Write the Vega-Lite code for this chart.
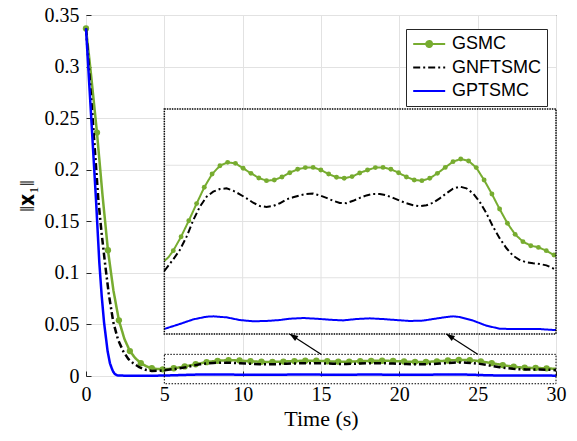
{
  "$schema": "https://vega.github.io/schema/vega-lite/v6.json",
  "width": 470,
  "height": 361,
  "autosize": {"type": "none"},
  "padding": {"left": 86, "top": 15, "right": 21, "bottom": 65},
  "background": "white",
  "config": {
    "font": "Liberation Serif",
    "view": {"stroke": "#262626", "strokeWidth": 1}
  },
  "datasets": {
    "curves": [
      {"series": "GSMC", "t": 0, "v": 0.337},
      {"series": "GSMC", "t": 0.35, "v": 0.288},
      {"series": "GSMC", "t": 0.7, "v": 0.236},
      {"series": "GSMC", "t": 1.05, "v": 0.176},
      {"series": "GSMC", "t": 1.4, "v": 0.122},
      {"series": "GSMC", "t": 1.75, "v": 0.083},
      {"series": "GSMC", "t": 2.1, "v": 0.054},
      {"series": "GSMC", "t": 2.45, "v": 0.036},
      {"series": "GSMC", "t": 2.8, "v": 0.0242},
      {"series": "GSMC", "t": 3.15, "v": 0.0172},
      {"series": "GSMC", "t": 3.5, "v": 0.0124},
      {"series": "GSMC", "t": 3.85, "v": 0.0094},
      {"series": "GSMC", "t": 4.2, "v": 0.0075},
      {"series": "GSMC", "t": 4.55, "v": 0.0068},
      {"series": "GSMC", "t": 4.9, "v": 0.0065},
      {"series": "GSMC", "t": 5.0, "v": 0.0065},
      {"series": "GSMC", "t": 5.25, "v": 0.0068},
      {"series": "GSMC", "t": 5.57, "v": 0.00741},
      {"series": "GSMC", "t": 6.07, "v": 0.00865},
      {"series": "GSMC", "t": 6.56, "v": 0.01007},
      {"series": "GSMC", "t": 7.06, "v": 0.01159},
      {"series": "GSMC", "t": 7.55, "v": 0.01304},
      {"series": "GSMC", "t": 8.05, "v": 0.01422},
      {"series": "GSMC", "t": 8.55, "v": 0.01496},
      {"series": "GSMC", "t": 9.04, "v": 0.01526},
      {"series": "GSMC", "t": 9.54, "v": 0.01517},
      {"series": "GSMC", "t": 10.03, "v": 0.01473},
      {"series": "GSMC", "t": 10.53, "v": 0.01428},
      {"series": "GSMC", "t": 11.03, "v": 0.01387},
      {"series": "GSMC", "t": 11.52, "v": 0.01363},
      {"series": "GSMC", "t": 12.02, "v": 0.01369},
      {"series": "GSMC", "t": 12.51, "v": 0.01396},
      {"series": "GSMC", "t": 13.01, "v": 0.01434},
      {"series": "GSMC", "t": 13.51, "v": 0.01464},
      {"series": "GSMC", "t": 14.0, "v": 0.01479},
      {"series": "GSMC", "t": 14.5, "v": 0.01481},
      {"series": "GSMC", "t": 14.99, "v": 0.01458},
      {"series": "GSMC", "t": 15.49, "v": 0.01422},
      {"series": "GSMC", "t": 15.99, "v": 0.01393},
      {"series": "GSMC", "t": 16.48, "v": 0.01384},
      {"series": "GSMC", "t": 16.98, "v": 0.01399},
      {"series": "GSMC", "t": 17.47, "v": 0.01431},
      {"series": "GSMC", "t": 17.97, "v": 0.01458},
      {"series": "GSMC", "t": 18.47, "v": 0.01479},
      {"series": "GSMC", "t": 18.96, "v": 0.01481},
      {"series": "GSMC", "t": 19.46, "v": 0.01464},
      {"series": "GSMC", "t": 19.95, "v": 0.01434},
      {"series": "GSMC", "t": 20.45, "v": 0.01396},
      {"series": "GSMC", "t": 20.95, "v": 0.01369},
      {"series": "GSMC", "t": 21.44, "v": 0.01363},
      {"series": "GSMC", "t": 21.94, "v": 0.01384},
      {"series": "GSMC", "t": 22.43, "v": 0.01428},
      {"series": "GSMC", "t": 22.93, "v": 0.01481},
      {"series": "GSMC", "t": 23.43, "v": 0.01532},
      {"series": "GSMC", "t": 23.92, "v": 0.01556},
      {"series": "GSMC", "t": 24.42, "v": 0.01538},
      {"series": "GSMC", "t": 24.91, "v": 0.01479},
      {"series": "GSMC", "t": 25.41, "v": 0.01369},
      {"series": "GSMC", "t": 25.91, "v": 0.01244},
      {"series": "GSMC", "t": 26.4, "v": 0.01111},
      {"series": "GSMC", "t": 26.9, "v": 0.00984},
      {"series": "GSMC", "t": 27.39, "v": 0.00886},
      {"series": "GSMC", "t": 27.89, "v": 0.00821},
      {"series": "GSMC", "t": 28.39, "v": 0.00785},
      {"series": "GSMC", "t": 28.88, "v": 0.0077},
      {"series": "GSMC", "t": 29.38, "v": 0.00741},
      {"series": "GSMC", "t": 29.87, "v": 0.00702},
      {"series": "GSMC", "t": 30, "v": 0.0069},

      {"series": "GNFTSMC", "t": 0, "v": 0.337},
      {"series": "GNFTSMC", "t": 0.2, "v": 0.296},
      {"series": "GNFTSMC", "t": 0.4, "v": 0.255},
      {"series": "GNFTSMC", "t": 0.6, "v": 0.212},
      {"series": "GNFTSMC", "t": 0.79, "v": 0.1705},
      {"series": "GNFTSMC", "t": 1.0, "v": 0.138},
      {"series": "GNFTSMC", "t": 1.21, "v": 0.1098},
      {"series": "GNFTSMC", "t": 1.45, "v": 0.08},
      {"series": "GNFTSMC", "t": 1.74, "v": 0.0523},
      {"series": "GNFTSMC", "t": 2.05, "v": 0.035},
      {"series": "GNFTSMC", "t": 2.38, "v": 0.0239},
      {"series": "GNFTSMC", "t": 2.7, "v": 0.0165},
      {"series": "GNFTSMC", "t": 3.02, "v": 0.0123},
      {"series": "GNFTSMC", "t": 3.4, "v": 0.0085},
      {"series": "GNFTSMC", "t": 3.8, "v": 0.006},
      {"series": "GNFTSMC", "t": 4.2, "v": 0.0049},
      {"series": "GNFTSMC", "t": 4.6, "v": 0.005},
      {"series": "GNFTSMC", "t": 5.0, "v": 0.0056},
      {"series": "GNFTSMC", "t": 5.57, "v": 0.00664},
      {"series": "GNFTSMC", "t": 5.99, "v": 0.00747},
      {"series": "GNFTSMC", "t": 6.42, "v": 0.00865},
      {"series": "GNFTSMC", "t": 6.85, "v": 0.01013},
      {"series": "GNFTSMC", "t": 7.27, "v": 0.01132},
      {"series": "GNFTSMC", "t": 7.7, "v": 0.01221},
      {"series": "GNFTSMC", "t": 8.12, "v": 0.01265},
      {"series": "GNFTSMC", "t": 8.55, "v": 0.01289},
      {"series": "GNFTSMC", "t": 8.97, "v": 0.01295},
      {"series": "GNFTSMC", "t": 9.39, "v": 0.01274},
      {"series": "GNFTSMC", "t": 9.82, "v": 0.01242},
      {"series": "GNFTSMC", "t": 10.25, "v": 0.01206},
      {"series": "GNFTSMC", "t": 10.67, "v": 0.01167},
      {"series": "GNFTSMC", "t": 11.1, "v": 0.01138},
      {"series": "GNFTSMC", "t": 11.52, "v": 0.01129},
      {"series": "GNFTSMC", "t": 11.95, "v": 0.01138},
      {"series": "GNFTSMC", "t": 12.37, "v": 0.01162},
      {"series": "GNFTSMC", "t": 12.8, "v": 0.01197},
      {"series": "GNFTSMC", "t": 13.22, "v": 0.01215},
      {"series": "GNFTSMC", "t": 13.64, "v": 0.01232},
      {"series": "GNFTSMC", "t": 14.07, "v": 0.01245},
      {"series": "GNFTSMC", "t": 14.5, "v": 0.01248},
      {"series": "GNFTSMC", "t": 14.92, "v": 0.01232},
      {"series": "GNFTSMC", "t": 15.35, "v": 0.0121},
      {"series": "GNFTSMC", "t": 15.77, "v": 0.01185},
      {"series": "GNFTSMC", "t": 16.2, "v": 0.01165},
      {"series": "GNFTSMC", "t": 16.62, "v": 0.01163},
      {"series": "GNFTSMC", "t": 17.05, "v": 0.01184},
      {"series": "GNFTSMC", "t": 17.48, "v": 0.0121},
      {"series": "GNFTSMC", "t": 17.9, "v": 0.01232},
      {"series": "GNFTSMC", "t": 18.33, "v": 0.01245},
      {"series": "GNFTSMC", "t": 18.75, "v": 0.01245},
      {"series": "GNFTSMC", "t": 19.18, "v": 0.01232},
      {"series": "GNFTSMC", "t": 19.6, "v": 0.0121},
      {"series": "GNFTSMC", "t": 20.03, "v": 0.01185},
      {"series": "GNFTSMC", "t": 20.45, "v": 0.01162},
      {"series": "GNFTSMC", "t": 20.88, "v": 0.01145},
      {"series": "GNFTSMC", "t": 21.3, "v": 0.01135},
      {"series": "GNFTSMC", "t": 21.73, "v": 0.01144},
      {"series": "GNFTSMC", "t": 22.15, "v": 0.01167},
      {"series": "GNFTSMC", "t": 22.58, "v": 0.01206},
      {"series": "GNFTSMC", "t": 23.0, "v": 0.0125},
      {"series": "GNFTSMC", "t": 23.43, "v": 0.01292},
      {"series": "GNFTSMC", "t": 23.86, "v": 0.0131},
      {"series": "GNFTSMC", "t": 24.28, "v": 0.01295},
      {"series": "GNFTSMC", "t": 24.71, "v": 0.0125},
      {"series": "GNFTSMC", "t": 25.13, "v": 0.01176},
      {"series": "GNFTSMC", "t": 25.56, "v": 0.01073},
      {"series": "GNFTSMC", "t": 25.98, "v": 0.00954},
      {"series": "GNFTSMC", "t": 26.41, "v": 0.0085},
      {"series": "GNFTSMC", "t": 26.84, "v": 0.00762},
      {"series": "GNFTSMC", "t": 27.26, "v": 0.00696},
      {"series": "GNFTSMC", "t": 27.69, "v": 0.00658},
      {"series": "GNFTSMC", "t": 28.11, "v": 0.00637},
      {"series": "GNFTSMC", "t": 28.54, "v": 0.00628},
      {"series": "GNFTSMC", "t": 28.96, "v": 0.00622},
      {"series": "GNFTSMC", "t": 29.39, "v": 0.0061},
      {"series": "GNFTSMC", "t": 29.81, "v": 0.00584},
      {"series": "GNFTSMC", "t": 30, "v": 0.00569},

      {"series": "GPTSMC", "t": 0, "v": 0.337},
      {"series": "GPTSMC", "t": 0.32, "v": 0.254},
      {"series": "GPTSMC", "t": 0.64, "v": 0.1705},
      {"series": "GPTSMC", "t": 0.85, "v": 0.11},
      {"series": "GPTSMC", "t": 1.0, "v": 0.078},
      {"series": "GPTSMC", "t": 1.15, "v": 0.0523},
      {"series": "GPTSMC", "t": 1.38, "v": 0.0239},
      {"series": "GPTSMC", "t": 1.53, "v": 0.0123},
      {"series": "GPTSMC", "t": 1.65, "v": 0.0072},
      {"series": "GPTSMC", "t": 1.74, "v": 0.004},
      {"series": "GPTSMC", "t": 1.85, "v": 0.0018},
      {"series": "GPTSMC", "t": 2.0, "v": 0.0006},
      {"series": "GPTSMC", "t": 2.5, "v": 0.0003},
      {"series": "GPTSMC", "t": 3.5, "v": 0.0002},
      {"series": "GPTSMC", "t": 4.3, "v": 0.0003},
      {"series": "GPTSMC", "t": 5.0, "v": 0.00045},
      {"series": "GPTSMC", "t": 5.99, "v": 0.00089},
      {"series": "GPTSMC", "t": 6.85, "v": 0.0013},
      {"series": "GPTSMC", "t": 7.7, "v": 0.00154},
      {"series": "GPTSMC", "t": 8.12, "v": 0.00157},
      {"series": "GPTSMC", "t": 8.97, "v": 0.00148},
      {"series": "GPTSMC", "t": 9.82, "v": 0.00124},
      {"series": "GPTSMC", "t": 10.67, "v": 0.00113},
      {"series": "GPTSMC", "t": 11.52, "v": 0.00116},
      {"series": "GPTSMC", "t": 12.37, "v": 0.00124},
      {"series": "GPTSMC", "t": 13.01, "v": 0.00136},
      {"series": "GPTSMC", "t": 13.86, "v": 0.00142},
      {"series": "GPTSMC", "t": 14.71, "v": 0.00136},
      {"series": "GPTSMC", "t": 15.56, "v": 0.00127},
      {"series": "GPTSMC", "t": 16.41, "v": 0.00121},
      {"series": "GPTSMC", "t": 17.27, "v": 0.00133},
      {"series": "GPTSMC", "t": 18.11, "v": 0.00139},
      {"series": "GPTSMC", "t": 18.96, "v": 0.00133},
      {"series": "GPTSMC", "t": 19.81, "v": 0.00124},
      {"series": "GPTSMC", "t": 20.66, "v": 0.00116},
      {"series": "GPTSMC", "t": 21.51, "v": 0.00119},
      {"series": "GPTSMC", "t": 22.15, "v": 0.00133},
      {"series": "GPTSMC", "t": 23.0, "v": 0.00151},
      {"series": "GPTSMC", "t": 23.43, "v": 0.00157},
      {"series": "GPTSMC", "t": 23.86, "v": 0.00151},
      {"series": "GPTSMC", "t": 24.71, "v": 0.00119},
      {"series": "GPTSMC", "t": 25.56, "v": 0.00074},
      {"series": "GPTSMC", "t": 26.41, "v": 0.00047},
      {"series": "GPTSMC", "t": 27.26, "v": 0.00044},
      {"series": "GPTSMC", "t": 28.11, "v": 0.00044},
      {"series": "GPTSMC", "t": 28.96, "v": 0.00044},
      {"series": "GPTSMC", "t": 29.81, "v": 0.00036},
      {"series": "GPTSMC", "t": 30, "v": 0.00035}
    ],
    "mk": [
      {"t": 0, "v": 0.337}, {"t": 0.7, "v": 0.236}, {"t": 1.4, "v": 0.122}, {"t": 2.1, "v": 0.054},
      {"t": 2.8, "v": 0.0242}, {"t": 3.5, "v": 0.0124}, {"t": 4.2, "v": 0.0075}, {"t": 4.9, "v": 0.0065},
      {"t": 5.6, "v": 0.0075}, {"t": 6.3, "v": 0.0093}, {"t": 7.0, "v": 0.0114}, {"t": 7.7, "v": 0.0134},
      {"t": 8.4, "v": 0.0147}, {"t": 9.1, "v": 0.0153}, {"t": 9.8, "v": 0.015}, {"t": 10.5, "v": 0.0143},
      {"t": 11.2, "v": 0.0138}, {"t": 11.9, "v": 0.0137}, {"t": 12.6, "v": 0.014}, {"t": 13.3, "v": 0.0145},
      {"t": 14.0, "v": 0.0148}, {"t": 14.7, "v": 0.0148}, {"t": 15.4, "v": 0.0143}, {"t": 16.1, "v": 0.0139},
      {"t": 16.8, "v": 0.0139}, {"t": 17.5, "v": 0.0143}, {"t": 18.2, "v": 0.0147}, {"t": 18.9, "v": 0.0148},
      {"t": 19.6, "v": 0.0146}, {"t": 20.3, "v": 0.0141}, {"t": 21.0, "v": 0.0137}, {"t": 21.7, "v": 0.0137},
      {"t": 22.4, "v": 0.0142}, {"t": 23.1, "v": 0.015}, {"t": 23.8, "v": 0.0155}, {"t": 24.5, "v": 0.0153},
      {"t": 25.2, "v": 0.0142}, {"t": 25.9, "v": 0.0125}, {"t": 26.6, "v": 0.0106}, {"t": 27.3, "v": 0.009},
      {"t": 28.0, "v": 0.0081}, {"t": 28.7, "v": 0.0078}, {"t": 29.4, "v": 0.0074}
    ],
    "imk": [
      {"t": 5.57, "v": 0.00741}, {"t": 6.07, "v": 0.00865}, {"t": 6.56, "v": 0.01007}, {"t": 7.06, "v": 0.01159},
      {"t": 7.55, "v": 0.01304}, {"t": 8.05, "v": 0.01422}, {"t": 8.55, "v": 0.01496}, {"t": 9.04, "v": 0.01526},
      {"t": 9.54, "v": 0.01517}, {"t": 10.03, "v": 0.01473}, {"t": 10.53, "v": 0.01428}, {"t": 11.03, "v": 0.01387},
      {"t": 11.52, "v": 0.01363}, {"t": 12.02, "v": 0.01369}, {"t": 12.51, "v": 0.01396}, {"t": 13.01, "v": 0.01434},
      {"t": 13.51, "v": 0.01464}, {"t": 14.0, "v": 0.01479}, {"t": 14.5, "v": 0.01481}, {"t": 14.99, "v": 0.01458},
      {"t": 15.49, "v": 0.01422}, {"t": 15.99, "v": 0.01393}, {"t": 16.48, "v": 0.01384}, {"t": 16.98, "v": 0.01399},
      {"t": 17.47, "v": 0.01431}, {"t": 17.97, "v": 0.01458}, {"t": 18.47, "v": 0.01479}, {"t": 18.96, "v": 0.01481},
      {"t": 19.46, "v": 0.01464}, {"t": 19.95, "v": 0.01434}, {"t": 20.45, "v": 0.01396}, {"t": 20.95, "v": 0.01369},
      {"t": 21.44, "v": 0.01363}, {"t": 21.94, "v": 0.01384}, {"t": 22.43, "v": 0.01428}, {"t": 22.93, "v": 0.01481},
      {"t": 23.43, "v": 0.01532}, {"t": 23.92, "v": 0.01556}, {"t": 24.42, "v": 0.01538}, {"t": 24.91, "v": 0.01479},
      {"t": 25.41, "v": 0.01369}, {"t": 25.91, "v": 0.01244}, {"t": 26.4, "v": 0.01111}, {"t": 26.9, "v": 0.00984},
      {"t": 27.39, "v": 0.00886}, {"t": 27.89, "v": 0.00821}, {"t": 28.39, "v": 0.00785}, {"t": 28.88, "v": 0.0077},
      {"t": 29.38, "v": 0.00741}, {"t": 29.87, "v": 0.00702}
    ],
    "zoombox": [{"t": 5, "t2": 30, "v": -0.0075, "v2": 0.021}],
    "arrows": [
      {"t": 13, "v": 0.0407, "t2": 15, "v2": 0.021},
      {"t": 23, "v": 0.0407, "t2": 25, "v2": 0.021}
    ],
    "ibox": [{"t": 5, "t2": 30, "v": 0, "v2": 0.02}],
    "igrid": [
      {"t": 5, "t2": 30, "v": 0.005, "v2": 0.005},
      {"t": 5, "t2": 30, "v": 0.01, "v2": 0.01},
      {"t": 5, "t2": 30, "v": 0.015, "v2": 0.015},
      {"t": 10, "t2": 10, "v": 0, "v2": 0.02},
      {"t": 15, "t2": 15, "v": 0, "v2": 0.02},
      {"t": 20, "t2": 20, "v": 0, "v2": 0.02},
      {"t": 25, "t2": 25, "v": 0, "v2": 0.02}
    ]
  },
  "encoding": {
    "x": {
      "field": "t", "type": "quantitative",
      "scale": {"domain": [0, 30], "nice": false, "zero": false},
      "axis": {
        "values": [0, 5, 10, 15, 20, 25, 30], "title": "Time (s)", "grid": true,
        "labelFont": "Liberation Serif", "labelFontSize": 20, "labelColor": "#000",
        "titleFont": "Liberation Serif", "titleFontSize": 22, "titleFontWeight": "normal", "titleColor": "#000",
        "gridColor": "#e2e2e2", "domain": false, "ticks": true, "tickSize": -5, "tickColor": "#262626",
        "labelPadding": 13, "titlePadding": 4, "labelFlush": false, "labelOverlap": false
      }
    }
  },
  "layer": [
    {
      "encoding": {
        "y": {
          "field": "v", "type": "quantitative",
          "scale": {"domain": [0, 0.35], "nice": false, "zero": false},
          "axis": {
            "values": [0, 0.05, 0.1, 0.15, 0.2, 0.25, 0.3, 0.35], "format": "~g", "title": "‖𝐱₁‖", "grid": true,
            "labelFont": "Liberation Serif", "labelFontSize": 20, "labelColor": "#000",
            "titleFont": "Liberation Serif", "titleFontSize": 22, "titleFontWeight": "normal", "titleColor": "#000",
            "gridColor": "#e2e2e2", "domain": false, "ticks": true, "tickSize": -5, "tickColor": "#262626",
            "labelPadding": 12, "titlePadding": 6, "labelFlush": false, "labelOverlap": false
          }
        }
      },
      "layer": [
        {
          "data": {"name": "mk"},
          "mark": {"type": "point", "shape": "circle", "filled": true, "size": 40, "color": "#77AC30", "opacity": 1}
        },
        {
          "data": {"name": "curves"},
          "mark": {"type": "line", "strokeWidth": 2.5},
          "encoding": {
            "color": {
              "field": "series", "type": "nominal",
              "scale": {"domain": ["GSMC", "GNFTSMC", "GPTSMC"], "range": ["#77AC30", "#000000", "#0000FF"]},
              "legend": {
                "title": null, "orient": "none", "legendX": 320, "legendY": 14,
                "labelFont": "Liberation Sans", "labelFontSize": 18, "labelColor": "#000",
                "symbolSize": 144, "symbolStrokeWidth": 2, "labelOffset": 22, "padding": 6, "rowPadding": 5.5,
                "strokeColor": "#262626", "fillColor": "white",
                "encode": {"symbols": {"update": {
                  "shape": {"signal": "datum.value === 'GSMC' ? 'M-1.3,0L4.03,0M1.865,0A0.5,0.5 0 1 1 0.865,0A0.5,0.5 0 1 1 1.865,0Z' : 'M-1.3,0L4.03,0'"},
                  "fill": {"signal": "datum.value === 'GSMC' ? '#77AC30' : 'transparent'"}
                }}}
              }
            },
            "strokeDash": {
              "field": "series", "type": "nominal",
              "scale": {"domain": ["GSMC", "GNFTSMC", "GPTSMC"], "range": [[1, 0], [7, 3, 2, 3], [1, 0]]},
              "legend": {
                "title": null, "orient": "none", "legendX": 320, "legendY": 14,
                "labelFont": "Liberation Sans", "labelFontSize": 18, "labelColor": "#000",
                "symbolSize": 144, "symbolStrokeWidth": 2, "labelOffset": 22, "padding": 6, "rowPadding": 5.5,
                "strokeColor": "#262626", "fillColor": "white",
                "encode": {"symbols": {"update": {
                  "shape": {"signal": "datum.value === 'GSMC' ? 'M-1.3,0L4.03,0M1.865,0A0.5,0.5 0 1 1 0.865,0A0.5,0.5 0 1 1 1.865,0Z' : 'M-1.3,0L4.03,0'"},
                  "fill": {"signal": "datum.value === 'GSMC' ? '#77AC30' : 'transparent'"}
                }}}
              }
            }
          }
        },
        {
          "data": {"name": "zoombox"},
          "mark": {"type": "rect", "fill": "transparent", "stroke": "#000", "strokeWidth": 1, "strokeDash": [1.5, 1.5]},
          "encoding": {"x2": {"field": "t2"}, "y2": {"field": "v2"}}
        },
        {
          "data": {"name": "arrows"},
          "mark": {"type": "rule", "color": "#000", "strokeWidth": 1.2},
          "encoding": {"x2": {"field": "t2"}, "y2": {"field": "v2"}}
        },
        {
          "data": {"name": "arrows"},
          "mark": {"type": "point", "shape": "M0,0L-0.5,1.4L0.5,1.4Z", "filled": true, "color": "#000", "size": 144, "angle": 303, "opacity": 1}
        }
      ]
    },
    {
      "encoding": {
        "y": {
          "field": "v", "type": "quantitative",
          "scale": {"domain": [-0.003733, 0.028356], "nice": false, "zero": false},
          "axis": null
        }
      },
      "layer": [
        {
          "data": {"name": "ibox"},
          "mark": {"type": "rect", "fill": "white", "strokeWidth": 0},
          "encoding": {"x2": {"field": "t2"}, "y2": {"field": "v2"}}
        },
        {
          "data": {"name": "igrid"},
          "mark": {"type": "rule", "color": "#e2e2e2", "strokeWidth": 1},
          "encoding": {"x2": {"field": "t2"}, "y2": {"field": "v2"}}
        },
        {
          "data": {"name": "imk"},
          "mark": {"type": "point", "shape": "circle", "filled": true, "size": 24, "color": "#77AC30", "opacity": 1}
        },
        {
          "data": {"name": "curves"},
          "transform": [{"filter": "datum.t >= 5"}],
          "mark": {"type": "line", "strokeWidth": 2},
          "encoding": {
            "color": {"field": "series", "type": "nominal", "scale": {"domain": ["GSMC", "GNFTSMC", "GPTSMC"], "range": ["#77AC30", "#000000", "#0000FF"]}},
            "strokeDash": {"field": "series", "type": "nominal", "scale": {"domain": ["GSMC", "GNFTSMC", "GPTSMC"], "range": [[1, 0], [7, 3, 2, 3], [1, 0]]}}
          }
        },
        {
          "data": {"name": "ibox"},
          "mark": {"type": "rect", "fill": "transparent", "stroke": "#000", "strokeWidth": 1.5, "strokeDash": [1.5, 1]},
          "encoding": {"x2": {"field": "t2"}, "y2": {"field": "v2"}}
        }
      ]
    }
  ],
  "resolve": {"scale": {"y": "independent"}}
}
